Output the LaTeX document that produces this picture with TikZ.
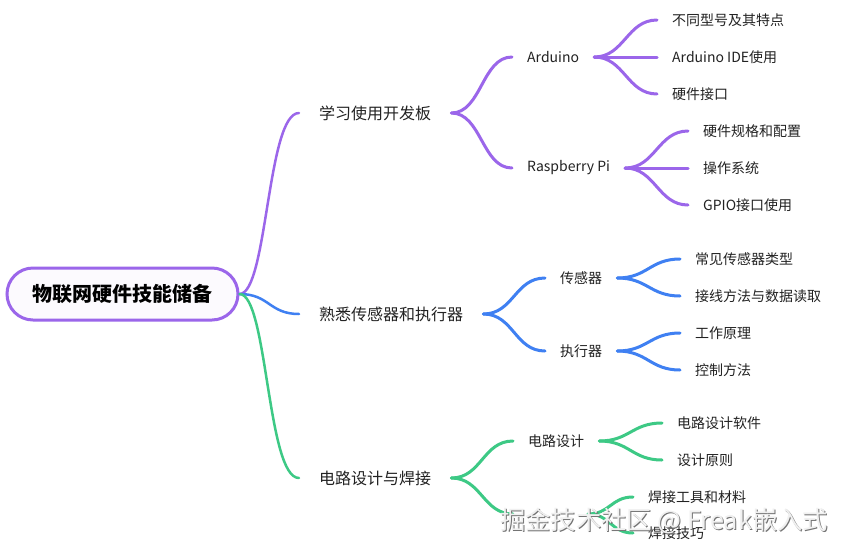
\documentclass[tikz,border=0pt]{standalone}
\usepackage{fontspec}
\setmainfont{Noto Sans CJK SC}
\usetikzlibrary{positioning}
\definecolor{mmpurple}{HTML}{9B66EA}
\definecolor{mmblue}{HTML}{3F80F2}
\definecolor{mmgreen}{HTML}{3DC985}
\definecolor{mmtext}{HTML}{222222}

\begin{document}
\begin{tikzpicture}[x=1pt,y=-1pt,
    root/.style={draw=mmpurple, line width=3pt, fill=white!97!mmpurple, rounded corners=26pt,
      minimum width=231pt, minimum height=52pt, font=\fontsize{20}{24}\selectfont\bfseries, text=black},
    topic/.style={anchor=west, inner xsep=20pt, inner ysep=2pt, font=\fontsize{16}{19}\selectfont, text=mmtext},
    sub/.style={anchor=west, inner xsep=15pt, inner ysep=2pt, font=\fontsize{14}{17}\selectfont, text=mmtext},
    branch/.style={line width=2.5pt, line cap=round},
    twig/.style={line width=3pt, line cap=round},
    mark text/.style={font=\fontsize{25.3}{29}\selectfont, inner sep=0pt}]
    \fill[white] (0,0) rectangle (842,552);
    \useasboundingbox (0,0) rectangle (842,552);

    % nodos
    \node[root] (root) at (122.5,294) {物联网硬件技能储备};
    \node[topic] (dev) at (299,113) {学习使用开发板};
    \node[topic] (sen) at (299,314) {熟悉传感器和执行器};
    \node[topic] (cir) at (299,478) {电路设计与焊接};

    \node[sub] (ard) at (512,57) {Arduino};
    \node[sub] (rpi) at (512,168) {Raspberry Pi};
    \node[sub] (sensor) at (545,278) {传感器};
    \node[sub] (actor) at (545,351) {执行器};
    \node[sub] (design) at (513,441) {电路设计};
    \coordinate (weldin) at (513,514);
    \coordinate (weldout) at (588,514);

    \node[sub] (ard1) at (657,20) {不同型号及其特点};
    \node[sub] (ard2) at (657,57) {Arduino IDE使用};
    \node[sub] (ard3) at (657,94) {硬件接口};
    \node[sub] (rpi1) at (688,131) {硬件规格和配置};
    \node[sub] (rpi2) at (688,168) {操作系统};
    \node[sub] (rpi3) at (688,205) {GPIO接口使用};
    \node[sub] (sensor1) at (680,259) {常见传感器类型};
    \node[sub] (sensor2) at (680,296) {接线方法与数据读取};
    \node[sub] (actor1) at (680,333) {工作原理};
    \node[sub] (actor2) at (680,370) {控制方法};
    \node[sub] (design1) at (662,423) {电路设计软件};
    \node[sub] (design2) at (662,460) {设计原则};
    \node[sub] (weld1) at (633,497) {焊接工具和材料};
    \node[sub] (weld2) at (633,533) {焊接技巧};

    % ramas
    \draw[branch, mmpurple] (root.east) .. controls +(28,0) and +(-32,0) .. (dev.west);
    \draw[branch, mmblue] (root.east) .. controls +(30,0) and +(-30,0) .. (sen.west);
    \draw[branch, mmgreen] (root.east) .. controls +(28,0) and +(-32,0) .. (cir.west);

    \draw[twig, mmpurple] (dev.east) .. controls +(30,0) and +(-30,0) .. (ard.west);
    \draw[twig, mmpurple] (dev.east) .. controls +(30,0) and +(-30,0) .. (rpi.west);
    \draw[twig, mmblue] (sen.east) .. controls +(30,0) and +(-30,0) .. (sensor.west);
    \draw[twig, mmblue] (sen.east) .. controls +(30,0) and +(-30,0) .. (actor.west);
    \draw[twig, mmgreen] (cir.east) .. controls +(30,0) and +(-30,0) .. (design.west);
    \draw[twig, mmgreen] (cir.east) .. controls +(30,0) and +(-30,0) .. (weldin);

    \foreach \k in {ard1,ard2,ard3}
      \draw[twig, mmpurple] (ard.east) .. controls +(30,0) and +(-30,0) .. (\k.west);
    \foreach \k in {rpi1,rpi2,rpi3}
      \draw[twig, mmpurple] (rpi.east) .. controls +(30,0) and +(-30,0) .. (\k.west);
    \foreach \k in {sensor1,sensor2}
      \draw[twig, mmblue] (sensor.east) .. controls +(30,0) and +(-30,0) .. (\k.west);
    \foreach \k in {actor1,actor2}
      \draw[twig, mmblue] (actor.east) .. controls +(30,0) and +(-30,0) .. (\k.west);
    \foreach \k in {design1,design2}
      \draw[twig, mmgreen] (design.east) .. controls +(30,0) and +(-30,0) .. (\k.west);
    \foreach \k in {weld1,weld2}
      \draw[twig, mmgreen] (weldout) .. controls +(22,0) and +(-22,0) .. (\k.west);

    % marca de agua
    \node[mark text, text=black!55, anchor=west] (markshadow) at (501,522) {掘金技术社区 @ Freak嵌入式};
    \node[mark text, text=black!6, anchor=west] (mark) at (500,521) {掘金技术社区 @ Freak嵌入式};
\end{tikzpicture}
\end{document}
